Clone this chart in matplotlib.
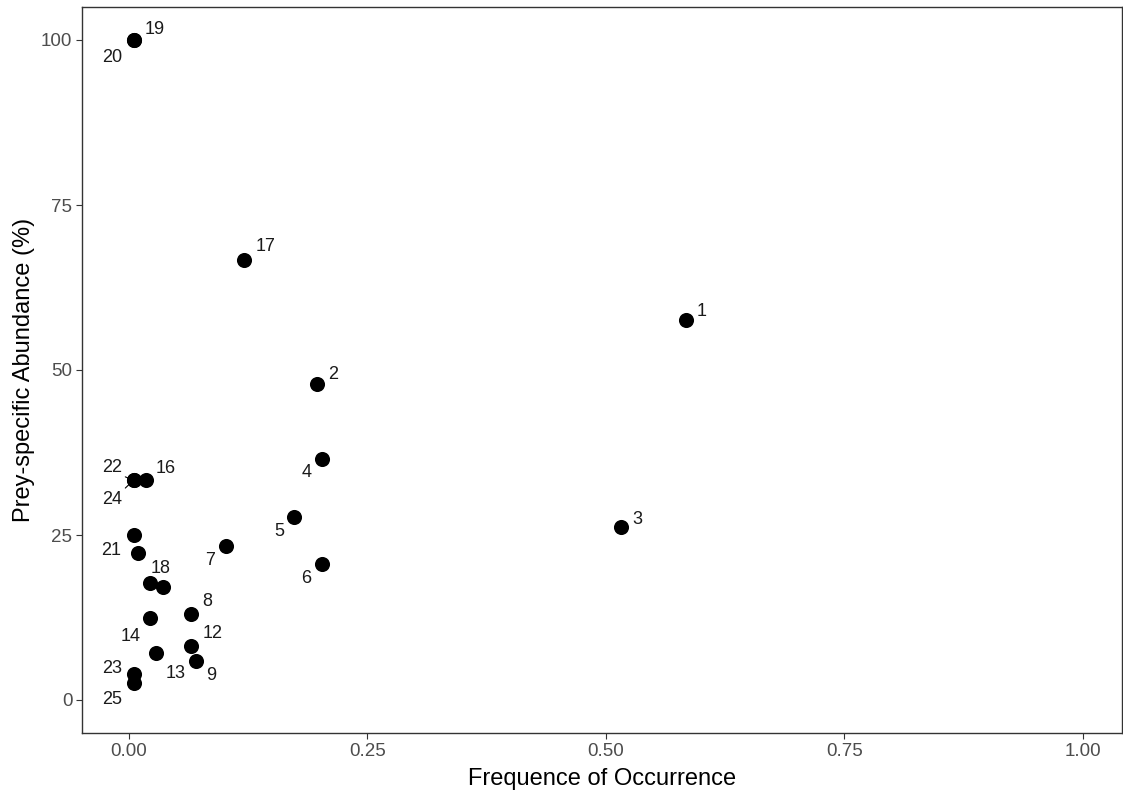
import matplotlib
matplotlib.use("Agg")
import matplotlib.pyplot as plt

plt.rcParams["font.family"] = ["Liberation Sans", "DejaVu Sans"]

# Prey items: frequency of occurrence vs prey-specific abundance
prey_ids = ["1", "2", "3", "4", "5", "6", "7", "8", "9", "", "", "12", "13",
            "14", "16", "17", "18", "19", "20", "21", "22", "23", "24", "25"]
freq_occ = [0.584, 0.197, 0.516, 0.203, 0.173, 0.203, 0.102, 0.065, 0.071,
            0.005, 0.036, 0.065, 0.029, 0.022, 0.018, 0.121, 0.022, 0.005,
            0.005, 0.010, 0.005, 0.005, 0.005, 0.005]
abundance = [57.6, 47.9, 26.2, 36.5, 27.7, 20.6, 23.3, 13.0, 5.9,
             25.0, 17.1, 8.2, 7.1, 12.4, 33.3, 66.7, 17.7, 100.0,
             100.0, 22.3, 33.3, 3.9, 33.3, 2.6]

x_ticks = [0.0, 0.25, 0.5, 0.75, 1.0]
x_tick_labels = ["0.00", "0.25", "0.50", "0.75", "1.00"]
y_ticks = [0, 25, 50, 75, 100]

# label offsets (pixels, +x right, +y down) chosen to keep labels apart
label_offsets = {
    "1": (16, -8), "2": (16, -9), "3": (16, -8), "4": (-16, 13),
    "5": (-15, 14), "6": (-16, 14), "7": (-16, 14), "8": (16, -13),
    "9": (15, 14), "12": (22, -12), "13": (19, 20), "14": (-19, 18),
    "16": (20, -12), "17": (21, -13), "18": (11, -15), "19": (21, -11),
    "20": (-21, 18), "21": (-27, -2), "22": (-21, -13), "23": (-21, -6),
    "24": (-21, 19), "25": (-21, 17),
}
# labels joined to their point by a short leader line (anchor corner on the text)
leader_anchor = {"22": (1.0, 0.0), "24": (1.0, 1.0)}

W, H, DPI = 1123, 793, 100
fig = plt.figure(figsize=(W / DPI, H / DPI), dpi=DPI)
ax = fig.add_axes([82 / W, 1 - 733 / H, (1122 - 82) / W, (733 - 7) / H])

ax.scatter(freq_occ, abundance, s=118, color="black", zorder=3, linewidths=0)

px2pt = 72 / DPI
for lab, x, y in zip(prey_ids, freq_occ, abundance):
    if not lab:
        continue
    dx, dy = label_offsets[lab]
    kw = {}
    if lab in leader_anchor:
        kw["arrowprops"] = dict(arrowstyle="-", color="black", lw=0.8,
                                shrinkA=0, shrinkB=4,
                                relpos=leader_anchor[lab])
    ax.annotate(lab, (x, y), xytext=(dx * px2pt, -dy * px2pt),
                textcoords="offset points", ha="center", va="center",
                fontsize=13, color="#1a1a1a", zorder=4, **kw)

ax.set_xlim(-0.049, 1.041)
ax.set_ylim(-5, 105)
ax.set_xticks(x_ticks)
ax.set_xticklabels(x_tick_labels)
ax.set_yticks(y_ticks)

for sp in ax.spines.values():
    sp.set_color("#333333")
    sp.set_linewidth(1.0)

ax.tick_params(axis="both", direction="out", length=4, width=0.8,
               color="#333333", labelcolor="#4D4D4D", labelsize=13.5, pad=3)

ax.set_xlabel("Frequence of Occurrence", fontsize=17, color="black", labelpad=6)
ax.set_ylabel("Prey-specific Abundance (%)", fontsize=17, color="black", labelpad=4)

fig.savefig("out.png", dpi=DPI)
